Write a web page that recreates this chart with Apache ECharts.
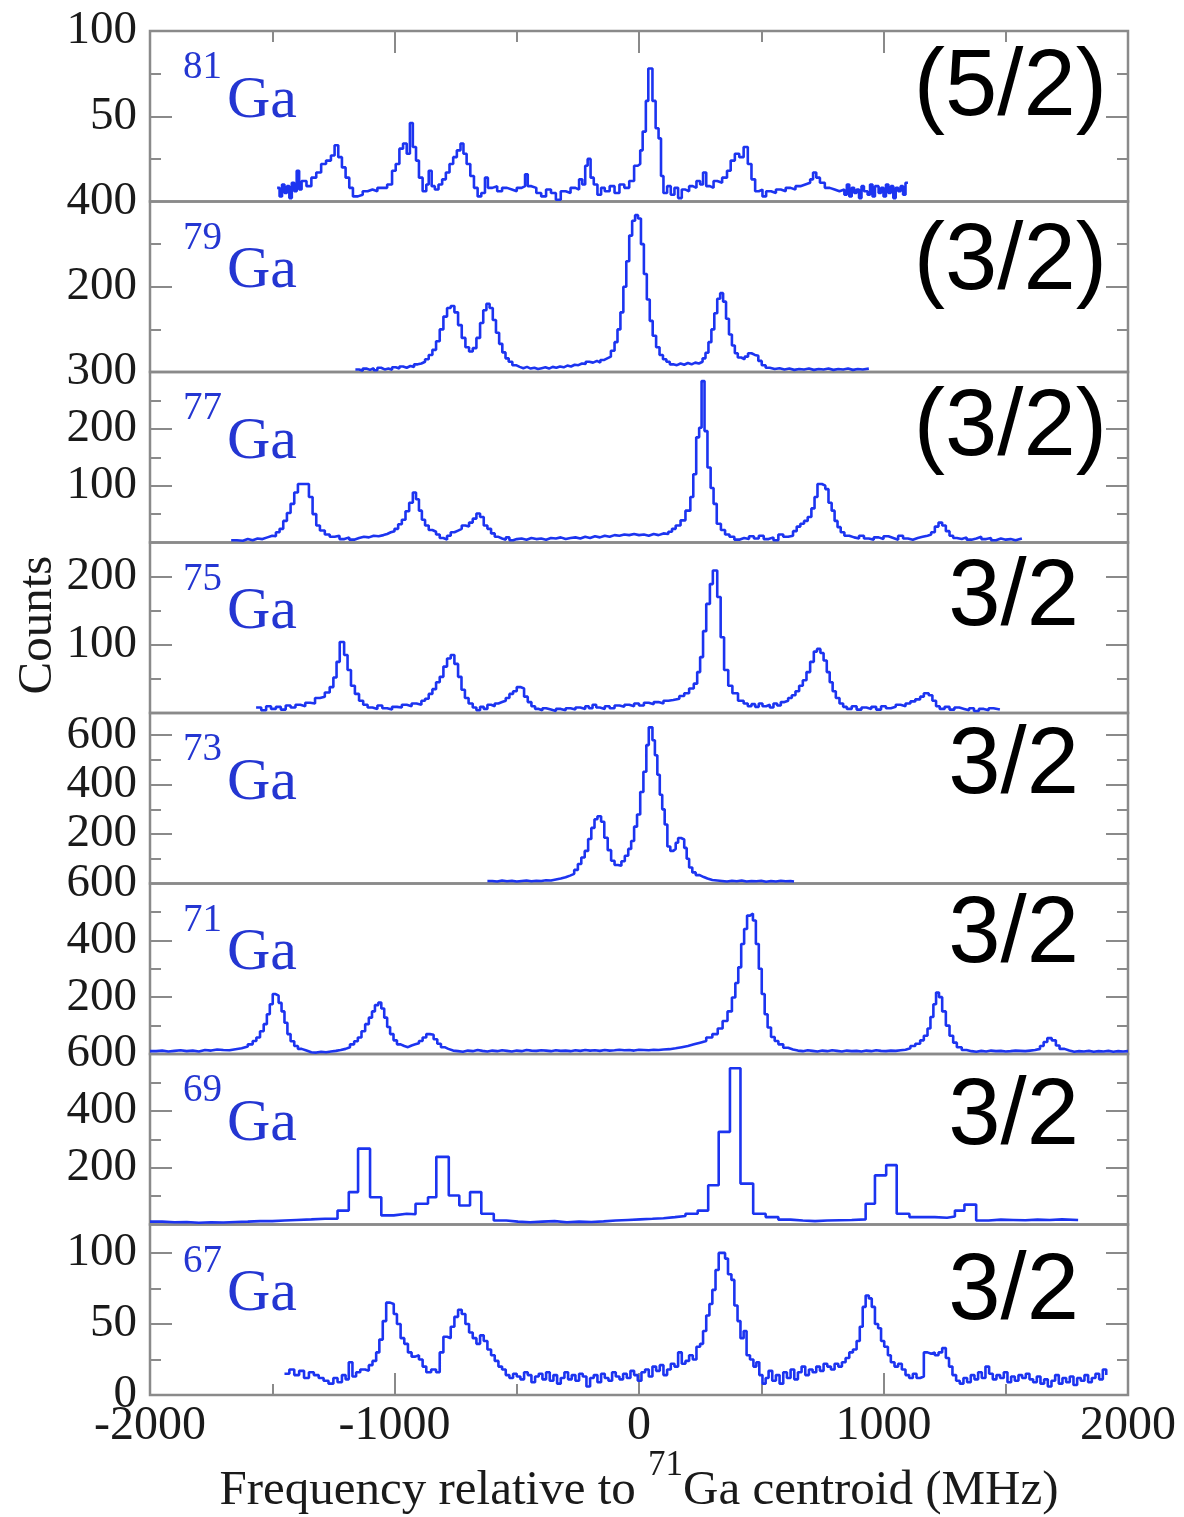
<!DOCTYPE html>
<html>
<head>
<meta charset="utf-8">
<script src="https://cdn.jsdelivr.net/npm/echarts@6/dist/echarts.min.js"></script>
<style>
  html, body { margin: 0; padding: 0; background: #ffffff; }
  #chart { width: 1184px; height: 1517px; }
</style>
</head>
<body>
<div id="chart"></div>
<script>
// Hyperfine spectra of the gallium isotopes: [frequency (MHz), counts] per bin start.
const ga81 = [[-1480,8],[-1470,3],[-1460,10],[-1450,5],[-1440,9],[-1430,2],[-1420,11],[-1410,6],[-1400,18],[-1390,7],[-1380,12],[-1360,9],[-1340,14],[-1320,17],[-1300,22],[-1280,24],[-1260,27],[-1245,33],[-1230,26],[-1215,20],[-1200,14],[-1185,8],[-1170,3],[-1150,4],[-1130,6],[-1110,7],[-1090,6],[-1070,8],[-1050,8],[-1030,10],[-1010,18],[-995,22],[-980,31],[-965,34],[-950,28],[-937,46],[-925,32],[-912,24],[-900,14],[-885,6],[-870,10],[-860,18],[-848,9],[-835,7],[-820,10],[-805,13],[-790,17],[-775,22],[-760,26],[-745,30],[-730,34],[-718,28],[-705,22],[-690,15],[-675,8],[-660,3],[-645,5],[-630,14],[-618,8],[-600,9],[-580,6],[-560,8],[-540,7],[-520,6],[-500,8],[-480,9],[-466,16],[-455,9],[-440,8],[-420,5],[-400,3],[-380,7],[-360,5],[-340,1],[-320,6],[-300,5],[-280,8],[-260,7],[-245,13],[-232,10],[-220,21],[-210,25],[-198,14],[-185,10],[-170,4],[-155,8],[-140,6],[-120,9],[-100,5],[-80,10],[-60,8],[-40,12],[-20,21],[-5,22],[5,30],[15,41],[28,59],[38,78],[55,59],[68,43],[80,37],[90,15],[100,5],[115,9],[130,4],[145,8],[160,2],[175,7],[190,6],[205,9],[220,8],[235,12],[250,10],[262,17],[275,9],[290,8],[305,12],[320,11],[340,14],[360,18],[375,24],[392,28],[410,26],[428,32],[445,22],[460,13],[475,6],[490,7],[505,3],[520,6],[540,5],[560,7],[580,6],[600,8],[620,7],[640,9],[660,10],[680,11],[700,13],[712,17],[725,14],[740,11],[760,8],[780,7],[800,6],[820,7],[840,4],[850,10],[860,3],[870,8],[880,5],[890,7],[900,2],[910,9],[920,6],[935,4],[945,10],[955,3],[965,9],[980,5],[990,8],[1000,3],[1010,10],[1020,5],[1030,9],[1040,2],[1050,8],[1060,6],[1070,9],[1080,4],[1090,11],[1100,11]];

const ga79 = [[-1160,6],[-1145,3],[-1130,8],[-1115,5],[-1100,9],[-1085,4],[-1070,10],[-1055,6],[-1040,8],[-1025,5],[-1010,11],[-995,8],[-980,13],[-965,10],[-950,14],[-935,12],[-920,18],[-905,20],[-890,24],[-875,30],[-860,40],[-845,52],[-830,72],[-815,100],[-800,130],[-785,150],[-770,155],[-755,140],[-740,110],[-725,80],[-710,58],[-695,48],[-680,56],[-665,80],[-650,115],[-637,145],[-624,160],[-611,150],[-598,122],[-585,92],[-572,66],[-559,46],[-546,32],[-533,24],[-518,16],[-503,12],[-488,9],[-473,12],[-458,8],[-443,10],[-428,7],[-413,9],[-398,11],[-383,8],[-368,12],[-353,10],[-338,13],[-323,11],[-308,15],[-293,13],[-278,17],[-263,16],[-248,20],[-233,19],[-218,24],[-203,22],[-188,26],[-172,22],[-158,28],[-144,32],[-130,36],[-115,50],[-100,70],[-88,100],[-76,140],[-64,200],[-52,260],[-40,320],[-28,355],[-16,368],[-4,360],[8,300],[20,230],[32,170],[44,120],[56,85],[70,58],[84,40],[98,30],[112,24],[126,18],[140,16],[155,20],[170,17],[185,21],[200,18],[215,22],[230,20],[245,24],[260,32],[272,45],[284,70],[296,100],[308,138],[320,172],[332,185],[344,165],[356,125],[368,88],[380,62],[392,44],[404,34],[418,30],[432,36],[446,44],[460,40],[474,38],[488,26],[502,16],[518,10],[535,7],[555,9],[575,6],[595,8],[615,5],[635,7],[655,6],[675,8],[695,5],[715,7],[735,6],[755,8],[775,5],[795,7],[815,6],[835,8],[855,5],[875,7],[895,6],[915,8],[940,8]];

const ga77 = [[-1668,4],[-1645,3],[-1620,6],[-1600,4],[-1580,7],[-1560,6],[-1540,9],[-1520,12],[-1500,11],[-1485,18],[-1470,24],[-1455,38],[-1440,52],[-1425,68],[-1410,88],[-1395,103],[-1365,103],[-1350,80],[-1335,50],[-1320,30],[-1305,21],[-1285,14],[-1265,10],[-1245,12],[-1225,6],[-1205,9],[-1185,5],[-1165,8],[-1145,10],[-1125,9],[-1105,12],[-1085,11],[-1065,13],[-1045,15],[-1030,18],[-1015,20],[-1000,24],[-985,32],[-970,40],[-955,55],[-940,70],[-925,88],[-912,76],[-900,56],[-888,40],[-875,30],[-860,22],[-845,19],[-830,14],[-815,8],[-800,5],[-785,12],[-770,18],[-755,21],[-740,24],[-725,30],[-710,28],[-695,35],[-680,42],[-665,51],[-650,45],[-635,30],[-620,24],[-605,16],[-590,10],[-575,7],[-560,5],[-545,9],[-530,4],[-515,6],[-500,7],[-480,5],[-460,8],[-440,6],[-420,7],[-400,5],[-380,8],[-360,7],[-340,9],[-320,6],[-300,8],[-280,9],[-260,7],[-240,10],[-220,8],[-200,11],[-180,9],[-160,12],[-140,10],[-120,13],[-100,12],[-80,14],[-60,13],[-40,15],[-20,13],[0,14],[20,12],[40,15],[60,13],[80,16],[100,15],[120,19],[135,24],[150,30],[170,39],[190,56],[210,80],[222,120],[234,185],[246,202],[256,284],[268,196],[280,132],[293,96],[305,68],[318,33],[335,22],[352,14],[370,10],[390,5],[410,8],[430,6],[450,11],[470,7],[490,12],[510,6],[530,9],[550,4],[570,14],[590,10],[610,12],[630,20],[645,28],[660,33],[675,38],[690,45],[705,60],[718,80],[730,103],[748,100],[762,94],[775,70],[788,56],[800,38],[812,27],[825,18],[840,12],[860,9],[880,7],[900,12],[920,7],[940,5],[960,9],[980,6],[1000,11],[1020,8],[1040,5],[1060,12],[1080,7],[1100,5],[1120,8],[1140,10],[1160,12],[1180,14],[1195,18],[1210,28],[1225,35],[1240,30],[1255,20],[1270,12],[1285,8],[1300,6],[1320,9],[1340,5],[1360,7],[1380,10],[1400,6],[1420,8],[1440,4],[1460,7],[1480,5],[1500,6],[1520,4],[1540,7],[1566,7]];

const ga75 = [[-1566,8],[-1545,4],[-1525,10],[-1505,6],[-1485,9],[-1465,5],[-1445,11],[-1425,8],[-1405,12],[-1385,10],[-1365,15],[-1345,14],[-1325,22],[-1305,24],[-1285,30],[-1265,38],[-1250,52],[-1237,75],[-1224,104],[-1206,85],[-1192,63],[-1178,40],[-1162,28],[-1145,18],[-1128,12],[-1110,8],[-1090,6],[-1070,11],[-1050,7],[-1030,5],[-1010,9],[-990,8],[-970,12],[-950,10],[-930,14],[-910,12],[-890,18],[-875,21],[-860,28],[-845,35],[-830,45],[-815,53],[-800,68],[-785,80],[-770,85],[-755,72],[-740,53],[-726,34],[-712,22],[-697,14],[-680,8],[-665,4],[-650,9],[-635,6],[-620,12],[-605,10],[-590,14],[-575,16],[-560,18],[-545,22],[-530,28],[-515,32],[-500,38],[-485,36],[-470,24],[-455,16],[-440,10],[-425,6],[-410,4],[-395,7],[-380,5],[-360,3],[-340,6],[-320,4],[-300,7],[-280,5],[-260,8],[-240,6],[-220,10],[-205,7],[-190,12],[-175,8],[-160,6],[-140,10],[-120,7],[-100,11],[-80,9],[-60,12],[-40,10],[-20,14],[0,11],[20,15],[40,13],[60,16],[80,14],[100,18],[120,19],[140,21],[165,25],[185,29],[205,36],[224,43],[238,60],[250,82],[262,120],[275,160],[290,189],[302,209],[320,170],[334,111],[348,63],[365,40],[382,29],[405,18],[428,14],[445,10],[460,13],[475,9],[490,14],[505,10],[520,12],[535,8],[550,14],[565,11],[580,16],[595,18],[610,22],[625,26],[640,32],[655,40],[670,48],[685,60],[700,75],[715,90],[728,94],[742,88],[755,77],[768,60],[780,45],[792,32],[805,22],[820,14],[835,9],[850,6],[870,10],[890,5],[910,8],[930,6],[950,9],[970,5],[990,10],[1010,7],[1030,9],[1050,12],[1070,10],[1090,14],[1110,17],[1130,20],[1150,24],[1165,29],[1185,26],[1200,18],[1215,10],[1230,6],[1250,9],[1270,5],[1290,8],[1310,6],[1330,4],[1350,7],[1370,3],[1390,6],[1410,4],[1430,7],[1450,5],[1476,5]];

const ga73 = [[-620,10],[-600,8],[-580,12],[-560,9],[-540,11],[-520,8],[-500,10],[-480,12],[-460,9],[-440,11],[-420,10],[-400,13],[-380,12],[-360,16],[-340,20],[-320,25],[-300,32],[-282,39],[-265,55],[-250,79],[-236,105],[-222,132],[-208,180],[-195,225],[-182,260],[-170,272],[-155,250],[-142,185],[-128,135],[-114,92],[-100,75],[-86,72],[-72,90],[-58,112],[-44,140],[-32,172],[-20,230],[-8,279],[5,370],[18,452],[30,560],[40,632],[55,580],[65,519],[75,440],[85,359],[95,300],[105,239],[116,150],[128,132],[140,140],[150,165],[160,184],[172,178],[185,144],[195,100],[205,65],[218,45],[232,34],[248,26],[265,20],[280,14],[300,12],[320,10],[340,8],[360,11],[380,9],[400,12],[420,8],[440,10],[460,9],[480,11],[500,7],[520,10],[540,8],[560,11],[580,9],[600,10],[620,8],[634,8]];

const ga71 = [[-2000,10],[-1975,12],[-1950,9],[-1925,11],[-1900,13],[-1875,10],[-1850,12],[-1825,9],[-1800,14],[-1775,12],[-1750,16],[-1725,14],[-1700,13],[-1675,17],[-1650,20],[-1625,26],[-1600,34],[-1580,46],[-1565,58],[-1550,80],[-1535,105],[-1522,140],[-1510,175],[-1498,211],[-1486,205],[-1474,180],[-1462,150],[-1450,110],[-1438,70],[-1425,45],[-1410,28],[-1395,18],[-1380,12],[-1360,6],[-1340,5],[-1320,8],[-1300,6],[-1280,9],[-1260,11],[-1240,14],[-1220,18],[-1200,24],[-1182,34],[-1165,45],[-1150,58],[-1135,80],[-1120,105],[-1105,128],[-1092,150],[-1080,172],[-1066,181],[-1054,160],[-1042,128],[-1030,95],[-1018,70],[-1004,48],[-990,34],[-975,28],[-960,24],[-945,30],[-930,34],[-915,38],[-900,46],[-885,58],[-870,70],[-855,68],[-840,52],[-825,36],[-810,24],[-795,18],[-780,12],[-760,10],[-740,8],[-720,12],[-700,10],[-680,14],[-660,11],[-640,9],[-620,12],[-600,10],[-580,13],[-560,11],[-540,9],[-520,12],[-500,10],[-480,14],[-460,12],[-440,11],[-420,13],[-400,12],[-380,10],[-360,13],[-340,11],[-320,12],[-300,10],[-280,13],[-260,11],[-240,14],[-220,12],[-200,13],[-180,11],[-160,14],[-140,12],[-120,13],[-100,15],[-80,13],[-60,14],[-40,12],[-20,15],[0,14],[20,13],[40,15],[60,14],[80,16],[100,17],[125,20],[150,24],[175,28],[200,34],[225,40],[250,46],[275,58],[300,70],[322,90],[342,116],[362,150],[380,199],[394,250],[406,305],[418,387],[430,440],[442,487],[454,494],[466,470],[478,387],[490,300],[502,211],[514,140],[526,93],[540,60],[555,46],[570,34],[590,22],[610,16],[630,12],[650,10],[670,13],[690,11],[710,9],[730,12],[750,10],[770,13],[790,11],[810,9],[830,12],[850,10],[870,11],[890,9],[910,12],[930,10],[950,13],[970,11],[990,10],[1010,12],[1030,11],[1050,13],[1070,15],[1090,20],[1110,28],[1130,36],[1150,48],[1165,64],[1180,90],[1192,130],[1204,175],[1215,216],[1227,200],[1240,150],[1255,100],[1270,64],[1285,40],[1300,24],[1320,14],[1340,10],[1360,8],[1380,11],[1400,9],[1420,12],[1440,10],[1460,11],[1480,9],[1500,10],[1520,12],[1540,11],[1560,10],[1580,12],[1600,14],[1620,18],[1640,28],[1655,42],[1670,56],[1688,48],[1705,30],[1720,18],[1740,12],[1760,8],[1780,10],[1800,9],[1820,11],[1840,8],[1860,10],[1880,9],[1900,11],[1920,8],[1940,10],[1960,9],[1980,10],[2000,10]];

const ga69 = [[-2000,10],[-1950,8],[-1900,9],[-1850,6],[-1800,8],[-1750,7],[-1700,9],[-1650,10],[-1600,12],[-1550,12],[-1500,14],[-1450,16],[-1400,18],[-1340,20],[-1284,20],[-1233,49],[-1187,114],[-1149,267],[-1100,96],[-1054,32],[-1003,38],[-950,36],[-914,73],[-863,96],[-829,238],[-778,102],[-735,67],[-691,114],[-645,38],[-594,14],[-543,10],[-495,8],[-445,10],[-395,12],[-345,8],[-295,10],[-245,9],[-195,11],[-145,14],[-95,16],[-45,18],[5,20],[55,22],[100,26],[147,30],[190,38],[240,49],[283,138],[326,326],[372,550],[415,144],[467,38],[518,26],[570,17],[620,14],[670,12],[720,14],[770,15],[820,16],[870,18],[927,73],[965,173],[1011,209],[1054,38],[1106,26],[1160,26],[1210,24],[1260,28],[1292,49],[1331,70],[1379,14],[1430,17],[1480,16],[1530,15],[1580,17],[1630,16],[1680,18],[1730,16],[1796,16]];

const ga67 = [[-1450,15],[-1430,18],[-1410,14],[-1390,17],[-1370,12],[-1350,16],[-1330,14],[-1310,12],[-1290,10],[-1270,8],[-1250,12],[-1233,9],[-1215,14],[-1200,11],[-1187,23],[-1172,13],[-1157,16],[-1140,18],[-1120,17],[-1105,21],[-1090,24],[-1075,30],[-1062,39],[-1048,52],[-1034,65],[-1018,64],[-1003,57],[-990,50],[-975,40],[-960,36],[-945,30],[-930,27],[-915,28],[-900,25],[-885,20],[-870,16],[-850,18],[-830,16],[-815,30],[-800,41],[-785,40],[-770,48],[-755,55],[-740,60],[-725,57],[-710,50],[-695,44],[-680,40],[-665,36],[-650,42],[-635,38],[-620,32],[-605,28],[-590,24],[-575,20],[-560,18],[-545,14],[-530,12],[-515,15],[-500,13],[-485,11],[-470,16],[-455,14],[-440,9],[-425,13],[-410,15],[-395,11],[-380,16],[-365,10],[-350,14],[-335,8],[-320,12],[-305,16],[-290,11],[-275,14],[-260,10],[-245,15],[-230,13],[-215,6],[-200,12],[-185,14],[-170,9],[-155,15],[-140,12],[-125,10],[-110,16],[-95,13],[-80,11],[-65,15],[-50,12],[-35,17],[-20,14],[-5,10],[10,16],[25,18],[40,13],[55,20],[70,17],[85,21],[100,14],[115,18],[130,22],[145,20],[160,30],[175,22],[190,24],[205,28],[220,25],[235,34],[250,36],[262,45],[275,56],[288,64],[300,74],[313,88],[326,100],[339,100],[352,96],[364,85],[378,81],[390,63],[403,52],[415,40],[428,45],[440,28],[454,25],[468,20],[480,23],[492,14],[505,8],[518,12],[530,17],[545,10],[560,14],[575,8],[590,16],[605,12],[620,18],[635,11],[650,16],[665,20],[680,14],[695,18],[710,16],[725,20],[740,17],[755,22],[770,20],[785,18],[800,22],[815,20],[830,23],[845,26],[860,30],[875,32],[890,38],[903,48],[915,62],[927,70],[940,68],[952,62],[965,50],[978,47],[990,38],[1003,34],[1018,28],[1030,23],[1045,20],[1060,22],[1075,18],[1090,14],[1105,12],[1120,15],[1135,12],[1150,13],[1165,30],[1180,29],[1195,30],[1210,28],[1225,30],[1240,33],[1255,26],[1268,20],[1282,14],[1297,10],[1312,8],[1327,12],[1342,9],[1357,14],[1372,11],[1387,16],[1402,12],[1417,20],[1432,15],[1447,11],[1462,14],[1477,12],[1492,16],[1507,9],[1522,13],[1537,10],[1552,14],[1567,12],[1582,15],[1597,11],[1612,9],[1627,13],[1642,8],[1657,11],[1672,6],[1687,10],[1702,14],[1717,8],[1732,12],[1747,9],[1762,13],[1777,7],[1792,12],[1807,10],[1822,14],[1837,9],[1852,12],[1867,15],[1882,11],[1897,18],[1911,14]];

// Panel order, top to bottom
const spectra = [ga81, ga79, ga77, ga75, ga73, ga71, ga69, ga67];
const massNumbers = ['81', '79', '77', '75', '73', '71', '69', '67'];
const spins = ['(5/2)', '(3/2)', '(3/2)', '3/2', '3/2', '3/2', '3/2', '3/2'];

// Count axes
const yMax = [100, 400, 300, 250, 690, 600, 600, 120];
const yLabelValues = [[50, 100], [200, 400], [100, 200, 300], [100, 200], [200, 400, 600], [200, 400, 600], [200, 400, 600], [0, 50, 100]];
const yMajorTicks = [[50], [200], [100, 200], [100, 200], [200, 400, 600], [200, 400], [200, 400], [50, 100]];
const yMinorTicks = [[25, 75], [100, 300], [50, 150, 250], [50, 150], [100, 300, 500], [100, 300, 500], [100, 300, 500], [25, 75]];

// Frequency axis
const xLabelValues = [-2000, -1000, 0, 1000, 2000];
const xMajorTicks = [-1000, 0, 1000];
const xMinorTicks = [-1500, -500, 500, 1500];

// Layout
const PLOT_LEFT = 150, PLOT_WIDTH = 978, PLOT_TOP = 31, PANEL_H = 170.5;
const SERIF = '"Liberation Serif", "Times New Roman", Times, serif';
const SANS = '"Liberation Sans", Arial, Helvetica, sans-serif';
const FRAME = '#8a8a8a';
const LINE_BLUE = '#1c34f0';
const LABEL_BLUE = '#2436d2';
const spinDy = [58, 62, 57, 57, 54, 53, 64, 69];

const grids = [], xAxes = [], yAxes = [], series = [], graphics = [];
const hiddenLine = { show: false, onZero: false };

spectra.forEach((data, i) => {
  const top = PLOT_TOP + i * PANEL_H;
  grids.push({
    left: PLOT_LEFT, width: PLOT_WIDTH, top: top, height: PANEL_H,
    show: true, borderColor: FRAME, borderWidth: 2.5, backgroundColor: 'transparent'
  });

  const edge = i === 0 || i === spectra.length - 1;
  xAxes.push({
    type: 'value', gridIndex: i, min: -2000, max: 2000,
    position: i === 0 ? 'top' : 'bottom',
    show: edge,
    axisLine: hiddenLine, splitLine: { show: false },
    axisTick: { show: edge, inside: true, length: 22, customValues: xMajorTicks, lineStyle: { color: FRAME, width: 2 } },
    axisLabel: {
      show: i === spectra.length - 1, customValues: xLabelValues,
      formatter: v => String(v), fontFamily: SERIF, fontSize: 48, color: '#1a1a1a', margin: 7
    }
  });

  const base = { type: 'value', gridIndex: i, min: 0, max: yMax[i], axisLine: hiddenLine, splitLine: { show: false } };
  const tickStyle = { color: FRAME, width: 2 };
  // left: major ticks with labels
  yAxes.push(Object.assign({}, base, {
    position: 'left',
    axisTick: { show: true, inside: true, length: 22, customValues: yMajorTicks[i], lineStyle: tickStyle },
    axisLabel: { show: true, customValues: yLabelValues[i], formatter: v => String(v), fontFamily: SERIF, fontSize: 47, color: '#1a1a1a', margin: 13 }
  }));
  // left: minor ticks
  yAxes.push(Object.assign({}, base, {
    position: 'left',
    axisTick: { show: true, inside: true, length: 11, customValues: yMinorTicks[i], lineStyle: tickStyle },
    axisLabel: { show: false }
  }));
  // right: mirrored ticks
  yAxes.push(Object.assign({}, base, {
    position: 'right',
    axisTick: { show: true, inside: true, length: 22, customValues: yMajorTicks[i], lineStyle: tickStyle },
    axisLabel: { show: false }
  }));
  yAxes.push(Object.assign({}, base, {
    position: 'right',
    axisTick: { show: true, inside: true, length: 11, customValues: yMinorTicks[i], lineStyle: tickStyle },
    axisLabel: { show: false }
  }));

  series.push({
    type: 'line', xAxisIndex: i, yAxisIndex: i * 4, data: data, step: 'end',
    showSymbol: false, symbol: 'none', silent: true, clip: true,
    lineStyle: { color: LINE_BLUE, width: 2.6 }
  });

  // isotope label: superscript mass number + element symbol
  graphics.push({
    type: 'text', x: 183, y: top + 37, silent: true,
    style: { text: massNumbers[i], fontFamily: SERIF, fontSize: 39, fill: LABEL_BLUE, align: 'left', verticalAlign: 'middle' }
  });
  graphics.push({
    type: 'text', x: 227, y: top + 70, silent: true,
    style: { text: 'Ga', fontFamily: SERIF, fontSize: 60, fill: LABEL_BLUE, align: 'left', verticalAlign: 'middle' }
  });
  // nuclear spin
  const paren = spins[i].charAt(0) === '(';
  graphics.push({
    type: 'text', x: paren ? 1107 : 1079, y: top + spinDy[i], silent: true,
    style: { text: spins[i], fontFamily: SANS, fontSize: 94, fill: '#000000', align: 'right', verticalAlign: 'middle' }
  });
});

// minor ticks on the outer frequency axes
[0, spectra.length - 1].forEach(i => {
  xAxes.push({
    type: 'value', gridIndex: i, min: -2000, max: 2000,
    position: i === 0 ? 'top' : 'bottom',
    axisLine: hiddenLine, splitLine: { show: false },
    axisTick: { show: true, inside: true, length: 11, customValues: xMinorTicks, lineStyle: { color: FRAME, width: 2 } },
    axisLabel: { show: false }
  });
});

// axis titles
graphics.push({
  type: 'text', x: 38, y: 625, rotation: Math.PI / 2, silent: true,
  style: { text: 'Counts', fontFamily: SERIF, fontSize: 49, fill: '#1a1a1a', align: 'center', verticalAlign: 'middle' }
});

const measure = document.createElement('canvas').getContext('2d');
const titleMain = 49, titleSup = 35;
measure.font = titleMain + 'px ' + SERIF;
const wLeft = measure.measureText('Frequency relative to ').width;
const wRight = measure.measureText('Ga centroid (MHz)').width;
measure.font = titleSup + 'px ' + SERIF;
const wSup = measure.measureText('71').width;
const titleX = 639 - (wLeft + wSup + wRight) / 2;
const titleY = 1491;
graphics.push({
  type: 'text', x: titleX, y: titleY, silent: true,
  style: { text: 'Frequency relative to ', fontFamily: SERIF, fontSize: titleMain, fill: '#1a1a1a', align: 'left', verticalAlign: 'middle' }
});
graphics.push({
  type: 'text', x: titleX + wLeft, y: titleY - 25, silent: true,
  style: { text: '71', fontFamily: SERIF, fontSize: titleSup, fill: '#1a1a1a', align: 'left', verticalAlign: 'middle' }
});
graphics.push({
  type: 'text', x: titleX + wLeft + wSup, y: titleY, silent: true,
  style: { text: 'Ga centroid (MHz)', fontFamily: SERIF, fontSize: titleMain, fill: '#1a1a1a', align: 'left', verticalAlign: 'middle' }
});

const chart = echarts.init(document.getElementById('chart'), null, { renderer: 'canvas' });
chart.setOption({
  backgroundColor: '#ffffff',
  animation: false,
  grid: grids,
  xAxis: xAxes,
  yAxis: yAxes,
  series: series,
  graphic: graphics
});
</script>
</body>
</html>
